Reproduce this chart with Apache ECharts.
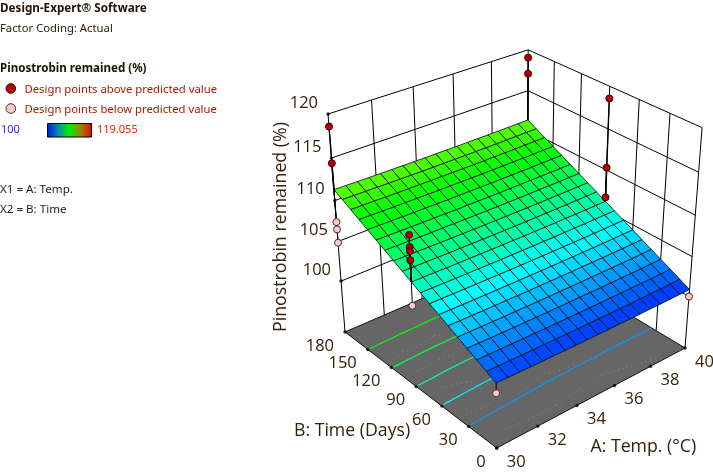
<!DOCTYPE html>
<html>
<head>
<meta charset="utf-8">
<style>html,body{margin:0;padding:0;background:#fff}#c{width:713px;height:473px}</style>
<script src="https://cdn.jsdelivr.net/npm/echarts@6/dist/echarts.min.js"></script>
</head>
<body>
<div id="c"></div>
<script>
// ---------- data ----------
const tempTicks = [30, 32, 34, 36, 38, 40];
const timeTicks = [0, 30, 60, 90, 120, 150, 180];
const zTicks = [100, 105, 110, 115, 120];
const zFloor = 93.3;
const zTop = 120;
const contourLevels = [102.9, 104.6, 106.25, 107.9, 109.6];
// rows: Time 0..180 in 18 steps, columns: Temp 30..40 in 18 steps
const surfaceZ = [
[101.20,101.16,101.13,101.09,101.06,101.04,101.01,100.98,100.97,100.95,100.93,100.92,100.91,100.90,100.90,100.89,100.89,100.90,100.90],
[101.76,101.72,101.69,101.65,101.62,101.60,101.58,101.55,101.54,101.52,101.50,101.49,101.48,101.47,101.47,101.47,101.47,101.48,101.48],
[102.32,102.28,102.25,102.22,102.19,102.17,102.14,102.11,102.11,102.09,102.07,102.06,102.05,102.05,102.05,102.04,102.04,102.05,102.06],
[102.88,102.85,102.82,102.78,102.75,102.74,102.71,102.68,102.67,102.66,102.64,102.63,102.63,102.62,102.62,102.61,102.62,102.63,102.63],
[103.44,103.41,103.38,103.34,103.32,103.30,103.27,103.25,103.24,103.23,103.21,103.20,103.20,103.19,103.19,103.19,103.19,103.20,103.21],
[104.01,103.97,103.95,103.91,103.89,103.87,103.85,103.82,103.82,103.80,103.79,103.78,103.78,103.77,103.77,103.77,103.77,103.79,103.79],
[104.57,104.53,104.51,104.48,104.45,104.44,104.41,104.39,104.38,104.37,104.36,104.35,104.35,104.34,104.35,104.34,104.35,104.37,104.37],
[105.13,105.10,105.07,105.04,105.02,105.00,104.98,104.96,104.95,104.94,104.93,104.92,104.92,104.91,104.92,104.92,104.92,104.94,104.95],
[105.69,105.66,105.63,105.60,105.58,105.57,105.54,105.52,105.52,105.51,105.49,105.49,105.49,105.49,105.49,105.49,105.50,105.52,105.52],
[106.25,106.22,106.20,106.16,106.14,106.13,106.11,106.09,106.09,106.07,106.06,106.06,106.06,106.06,106.07,106.06,106.07,106.09,106.10],
[106.81,106.78,106.76,106.73,106.71,106.70,106.68,106.66,106.65,106.64,106.63,106.63,106.63,106.63,106.64,106.64,106.65,106.67,106.68],
[107.37,107.34,107.32,107.29,107.27,107.26,107.24,107.22,107.22,107.21,107.20,107.20,107.20,107.20,107.21,107.21,107.22,107.24,107.25],
[107.93,107.90,107.88,107.85,107.83,107.83,107.81,107.79,107.79,107.78,107.77,107.77,107.77,107.77,107.79,107.79,107.80,107.82,107.83],
[108.49,108.46,108.44,108.42,108.40,108.39,108.37,108.35,108.36,108.35,108.34,108.34,108.34,108.35,108.36,108.36,108.37,108.39,108.41],
[109.06,109.03,109.02,108.99,108.97,108.97,108.95,108.93,108.93,108.93,108.92,108.92,108.93,108.93,108.94,108.95,108.96,108.98,108.99],
[109.62,109.59,109.58,109.55,109.54,109.53,109.51,109.50,109.50,109.50,109.49,109.49,109.50,109.50,109.51,109.52,109.53,109.56,109.57],
[110.18,110.15,110.14,110.11,110.10,110.09,110.08,110.06,110.07,110.06,110.06,110.06,110.07,110.07,110.09,110.09,110.11,110.13,110.15],
[110.74,110.72,110.70,110.68,110.66,110.66,110.64,110.63,110.64,110.63,110.63,110.63,110.64,110.64,110.66,110.67,110.68,110.71,110.72],
[111.30,111.28,111.26,111.24,111.23,111.22,111.21,111.20,111.20,111.20,111.20,111.20,111.21,111.22,111.23,111.24,111.26,111.28,111.30]
];
// design points [temp, time, value]
const pointsAbove = [
  [30,180,118.6],[30,180,114.4],
  [30,90,111.7],[30,90,110.3],[30,90,109.85],[30,90,108.8],
  [40,180,119.055],[40,180,117.1],
  [40,90,118.6],[40,90,110.3],[40,90,106.6]
];
const pointsBelow = [
  [30,180,107.4],[30,180,106.5],[30,180,104.85],
  [30,90,103.4],
  [30,0,100],[40,0,100]
];
// faint dotted traces on the floor [temp, time]
const floorTraces = [
  [[32.7,36],[34.4,43],[35,39],[35.9,37],[36.4,39],[36.7,33],[38.3,39]],
  [[30.5,12],[32.2,9.5],[33.4,9.6],[34.8,12.6],[36.2,15],[37.2,10],[38.7,4.3]],
  [[30.2,126],[31,131],[31.6,129],[32.7,133],[32.9,129],[32.9,117]],
  [[30.4,104],[31.8,106],[32.6,104]],
  [[30.5,78],[31.1,75],[31.9,69]],
  [[30.4,42],[31.5,40]]
];
const colorMin = 100, colorMax = 119.055;

// ---------- view of the 3D box ----------
function project(A, B, Z) {
  const a = (A - 30) / 10, b = B / 180, t = (Z - zFloor) / (zTop - zFloor);
  const w = 1 + 0.11378 * a + 0.13226 * b - 0.10221 * t;
  return [
    (496.7 + 266.25 * a - 106.07 * b - 52.74 * t) / w,
    (448 - 60.42 * a - 72.08 * b - 258.49 * t) / w
  ];
}
function rainbow(z) {
  const f = Math.max(0, Math.min(1, (z - colorMin) / (colorMax - colorMin))) * 4;
  let r = 0, g = 0, b = 0;
  if (f < 1) { g = f; b = 1; }
  else if (f < 2) { g = 1; b = 2 - f; }
  else if (f < 3) { r = f - 2; g = 1; }
  else { r = 1; g = 4 - f; }
  return 'rgb(' + Math.round(r * 255) + ',' + Math.round(g * 255) + ',' + Math.round(b * 255) + ')';
}
const N = surfaceZ.length - 1;
const timeAt = i => i * 180 / N, tempAt = j => 30 + j * 10 / N;

// ---------- series layers ----------
const INK = '#33200c';
const tickFont = '16.5px "Open Sans"';
const titleFont = '17.7px "Open Sans"';

function lineLayer(segs, stroke, width, dash) {
  return {
    type: 'custom', coordinateSystem: 'cartesian2d', silent: true, clip: false, animation: false,
    data: segs,
    renderItem(p, api) {
      const c1 = api.coord(project(api.value(0), api.value(1), api.value(2)));
      const c2 = api.coord(project(api.value(3), api.value(4), api.value(5)));
      return { type: 'line', shape: { x1: c1[0], y1: c1[1], x2: c2[0], y2: c2[1] },
               style: { stroke, lineWidth: width, lineDash: dash || null } };
    }
  };
}
const wallSegs = [];
zTicks.forEach(z => {
  wallSegs.push([30, 180, z, 40, 180, z]);
  wallSegs.push([40, 180, z, 40, 0, z]);
});
tempTicks.forEach(t => wallSegs.push([t, 180, zFloor, t, 180, zTop]));
timeTicks.slice(0, -1).forEach(t => wallSegs.push([40, t, zFloor, 40, t, zTop]));

const floorLayer = {
  type: 'custom', coordinateSystem: 'cartesian2d', silent: true, clip: false, animation: false,
  data: [[0]],
  renderItem(p, api) {
    const pts = [[30,0],[40,0],[40,180],[30,180]].map(c => api.coord(project(c[0], c[1], zFloor)));
    return { type: 'polygon', shape: { points: pts },
             style: { fill: '#666666', stroke: '#111', lineWidth: 1 } };
  }
};

const traceSegs = [];
floorTraces.forEach(tr => {
  for (let k = 0; k + 1 < tr.length; k++)
    traceSegs.push([tr[k][0], tr[k][1], zFloor, tr[k + 1][0], tr[k + 1][1], zFloor]);
});

function contourSegs(level) {
  const pts = [];
  for (let j = 0; j <= N; j++) {
    for (let i = 0; i < N; i++) {
      const z0 = surfaceZ[i][j], z1 = surfaceZ[i + 1][j];
      if (z0 <= level && z1 >= level) {
        pts.push([tempAt(j), timeAt(i) + (180 / N) * (level - z0) / (z1 - z0)]);
        break;
      }
    }
  }
  const segs = [];
  for (let k = 0; k + 1 < pts.length; k++)
    segs.push([pts[k][0], pts[k][1], zFloor, pts[k + 1][0], pts[k + 1][1], zFloor]);
  return segs;
}
const contourLayers = contourLevels.map(l => lineLayer(contourSegs(l), rainbow(l), 1.2));

const cells = [];
for (let i = 0; i < N; i++) for (let j = 0; j < N; j++) cells.push([i, j]);
const surfaceLayer = {
  type: 'custom', coordinateSystem: 'cartesian2d', silent: true, clip: false, animation: false,
  data: cells,
  renderItem(p, api) {
    const i = api.value(0), j = api.value(1);
    const corners = [[i, j], [i, j + 1], [i + 1, j + 1], [i + 1, j]];
    const pts = corners.map(c => api.coord(project(tempAt(c[1]), timeAt(c[0]), surfaceZ[c[0]][c[1]])));
    const mean = corners.reduce((s, c) => s + surfaceZ[c[0]][c[1]], 0) / 4;
    return { type: 'polygon', shape: { points: pts },
             style: { fill: rainbow(mean), stroke: 'rgba(10,20,20,0.85)', lineWidth: 1 } };
  }
};

function surfaceAt(A, B) { return surfaceZ[Math.round(B * N / 180)][Math.round((A - 30) * N / 10)]; }
const dropAbove = pointsAbove.map(q => [q[0], q[1], q[2], q[0], q[1], surfaceAt(q[0], q[1])]);
const dropBelow = pointsBelow.map(q => [q[0], q[1], q[2], q[0], q[1], surfaceAt(q[0], q[1])]);

const dotPts = [];
zTicks.forEach(z => dotPts.push(project(30, 180, z)));
timeTicks.forEach(t => dotPts.push(project(30, t, zFloor)));
tempTicks.forEach(t => dotPts.push(project(t, 0, zFloor)));

const labels = [];
zTicks.forEach(z => { const q = project(30, 180, z); labels.push([q[0] - 10, q[1] - 11, String(z), 'right', tickFont]); });
timeTicks.forEach(t => { const q = project(30, t, zFloor); labels.push([q[0] - 11, q[1] + 14, String(t), 'right', tickFont]); });
tempTicks.forEach(t => { const q = project(t, 0, zFloor); labels.push([q[0] + 10, q[1] + 14, String(t), 'left', tickFont]); });
const textLayer = {
  type: 'custom', coordinateSystem: 'cartesian2d', silent: true, clip: false, animation: false,
  data: labels.map((l, k) => [l[0], l[1], k]),
  renderItem(p, api) {
    const l = labels[api.value(2)];
    const c = api.coord([l[0], l[1]]);
    return { type: 'text', x: c[0], y: c[1],
             style: { text: l[2], fill: INK, font: l[4], textAlign: l[3], textVerticalAlign: 'middle' } };
  }
};

const option = {
  animation: false,
  backgroundColor: '#ffffff',
  grid: { left: 0, right: 0, top: 0, bottom: 0 },
  xAxis: { type: 'value', min: 0, max: 713, show: false },
  yAxis: { type: 'value', min: 0, max: 473, inverse: true, show: false },
  series: [
    lineLayer(wallSegs, '#000', 1),
    floorLayer,
    lineLayer(traceSegs, 'rgba(185,135,135,0.75)', 1, [1, 4]),
    ...contourLayers,
    surfaceLayer,
    lineLayer(dropBelow, '#000', 1),
    lineLayer(dropAbove, '#000', 1.4),
    { type: 'scatter', silent: true, symbol: 'circle', symbolSize: 3.5, data: dotPts,
      itemStyle: { color: '#000' }, z: 3 },
    { type: 'scatter', silent: true, symbol: 'circle', symbolSize: 7,
      data: pointsBelow.map(q => project(q[0], q[1], q[2])),
      itemStyle: { color: '#ffc8c8', borderColor: '#4a3030', borderWidth: 1, opacity: 1 }, z: 4 },
    { type: 'scatter', silent: true, symbol: 'circle', symbolSize: 7,
      data: pointsAbove.map(q => project(q[0], q[1], q[2])),
      itemStyle: { color: '#b00000', borderColor: '#400000', borderWidth: 1, opacity: 1 }, z: 4 },
    textLayer
  ],
  graphic: [
    ...[
      [0, 8.7, 'Design-Expert® Software', 'bold 11.7px "Noto Sans"', '#1c1206'],
      [0, 28.7, 'Factor Coding: Actual', '11.3px "Noto Sans"', '#2a1a08'],
      [0, 69, 'Pinostrobin remained (%)', 'bold 11.6px "Noto Sans"', '#1c1206'],
      [24.5, 90, 'Design points above predicted value', '11.3px "Noto Sans"', '#b01800'],
      [24.5, 110, 'Design points below predicted value', '11.3px "Noto Sans"', '#b01800'],
      [1, 130, '100', '11px "Noto Sans"', '#4020ff'],
      [97, 130, '119.055', '11px "Noto Sans"', '#f02000'],
      [0, 190, 'X1 = A: Temp.', '11.6px "Noto Sans"', '#2a1a08'],
      [0, 210, 'X2 = B: Time', '11.6px "Noto Sans"', '#2a1a08'],
      [590.5, 446.5, 'A: Temp. (°C)', titleFont, INK],
      [294, 430.5, 'B: Time (Days)', titleFont, INK]
    ].map(t => ({ type: 'text', silent: true, x: t[0], y: t[1],
                  style: { text: t[2], font: t[3], fill: t[4], textVerticalAlign: 'middle' } })),
    { type: 'text', silent: true, x: 281, y: 227, rotation: Math.PI / 2,
      style: { text: 'Pinostrobin remained (%)', font: '17.8px "Open Sans"', fill: INK,
               textAlign: 'center', textVerticalAlign: 'middle' } },
    { type: 'circle', silent: true, shape: { cx: 10.8, cy: 88.5, r: 4.8 },
      style: { fill: '#b00000', stroke: '#400000', lineWidth: 1 } },
    { type: 'circle', silent: true, shape: { cx: 10.8, cy: 108.5, r: 4.8 },
      style: { fill: '#ffc8c8', stroke: '#4a3030', lineWidth: 1 } },
    { type: 'rect', silent: true, shape: { x: 47.5, y: 123.5, width: 44, height: 13.5 },
      style: { fill: new echarts.graphic.LinearGradient(0, 0, 1, 0, [
        { offset: 0, color: '#0010f0' }, { offset: 0.25, color: '#0090a0' },
        { offset: 0.5, color: '#00f000' }, { offset: 0.75, color: '#a08000' },
        { offset: 1, color: '#f00000' }]), stroke: '#000', lineWidth: 1 } }
  ]
};
const chart = echarts.init(document.getElementById('c'), null, { renderer: 'canvas' });
chart.setOption(option);
</script>
</body>
</html>
